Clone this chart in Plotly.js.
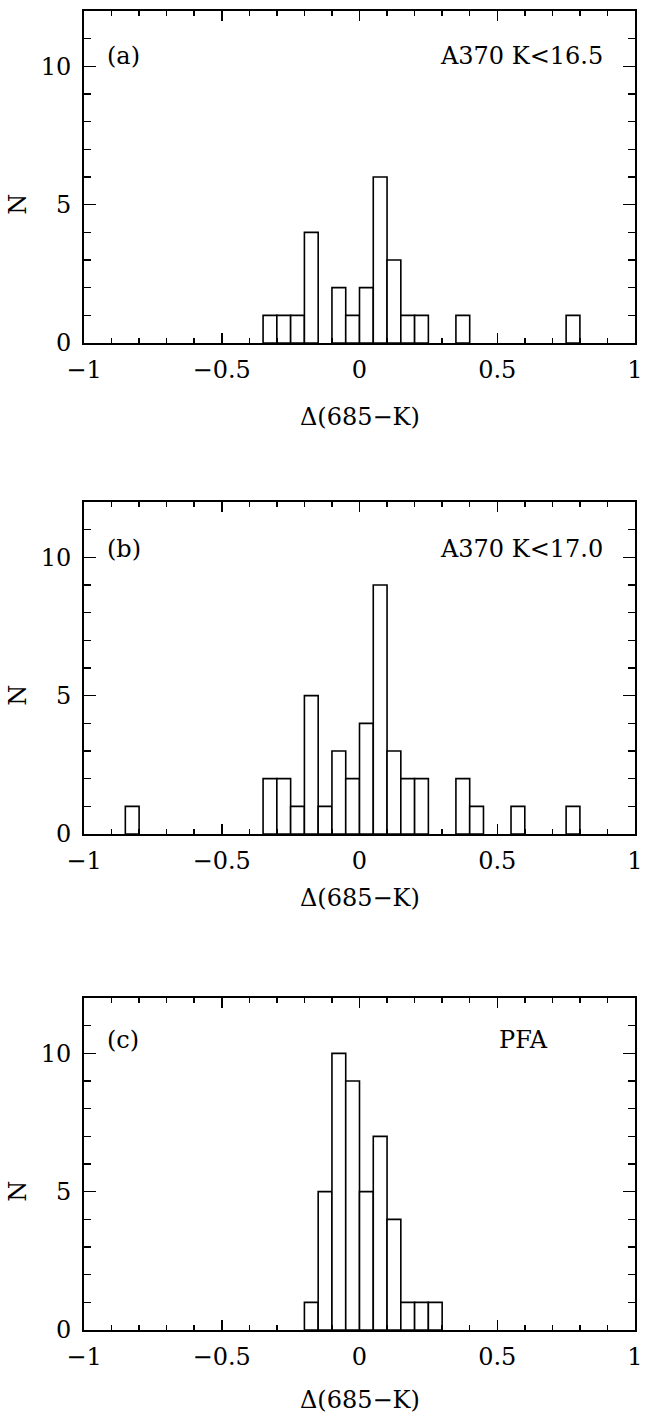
<!DOCTYPE html>
<html>
<head>
<meta charset="utf-8">
<script src="https://cdn.plot.ly/plotly-3.0.1.min.js"></script>
<style>html,body{margin:0;padding:0;background:#fff;}#chart{width:645px;height:1418px;}</style>
</head>
<body>
<div id="chart"></div>
<script>
// Bin centres (bin width 0.05) and counts
const binWidth = 0.05;
const centersA = [-0.325, -0.275, -0.225, -0.175, -0.075, -0.025, 0.025, 0.075, 0.125, 0.175, 0.225, 0.375, 0.775];
const countsA  = [1, 1, 1, 4, 2, 1, 2, 6, 3, 1, 1, 1, 1];

const centersB = [-0.825, -0.325, -0.275, -0.225, -0.175, -0.125, -0.075, -0.025, 0.025, 0.075, 0.125, 0.175, 0.225, 0.375, 0.425, 0.575, 0.775];
const countsB  = [1, 2, 2, 1, 5, 1, 3, 2, 4, 9, 3, 2, 2, 2, 1, 1, 1];

const centersC = [-0.175, -0.125, -0.075, -0.025, 0.025, 0.075, 0.125, 0.175, 0.225, 0.275];
const countsC  = [1, 5, 10, 9, 5, 7, 4, 1, 1, 1];

const panelLabels = ["(a)", "(b)", "(c)"];
const sampleLabels = ["A370 K<16.5", "A370 K<17.0", "PFA"];
const xTickVals = [-1, -0.5, 0, 0.5, 1];
const xTickText = ["\u22121", "\u22120.5", "0", "0.5", "1"];
const yTickVals = [0, 5, 10];
const xTitle = "\u0394(685\u2212K)";
const yTitle = "N";

const FONT = "DejaVu Serif, Liberation Serif, serif";
const FS = 24;

function barTrace(x, y, xa, ya) {
  return {
    type: 'bar', x: x, y: y, width: binWidth, xaxis: xa, yaxis: ya,
    marker: {color: 'white', line: {color: 'black', width: 1.6}},
    showlegend: false, hoverinfo: 'x+y'
  };
}

const data = [
  barTrace(centersA, countsA, 'x', 'y'),
  barTrace(centersB, countsB, 'x2', 'y2'),
  barTrace(centersC, countsC, 'x3', 'y3')
];

const W = 645, H = 1418;
const xDom = [84 / W, 635 / W];
const panels = [ [11, 343], [502, 834], [998, 1330] ];
const yDoms = panels.map(p => [1 - p[1] / H, 1 - p[0] / H]);

function xaxis(anchor) {
  return {
    domain: xDom, anchor: anchor, range: [-1.000001, 1.000001], autorange: false,
    tickmode: 'array', tickvals: xTickVals, ticktext: xTickText,
    ticks: 'inside', ticklen: 10, tickwidth: 1.5, tickcolor: 'black',
    minor: {dtick: 0.1, tick0: 0, ticks: 'inside', ticklen: 5, tickwidth: 1.5, tickcolor: 'black', showgrid: false},
    showline: true, linecolor: 'black', linewidth: 2, mirror: 'allticks',
    showgrid: false, zeroline: false,
    tickfont: {family: FONT, size: FS, color: 'black'},
    ticklabelstandoff: 4, ticklabeloverflow: 'allow', fixedrange: true
  };
}
function yaxis(anchor) {
  return {
    anchor: anchor, range: [0, 12], autorange: false,
    tickmode: 'array', tickvals: yTickVals,
    ticks: 'inside', ticklen: 12, tickwidth: 1.5, tickcolor: 'black',
    minor: {dtick: 1, tick0: 0, ticks: 'inside', ticklen: 7, tickwidth: 1.5, tickcolor: 'black', showgrid: false},
    showline: true, linecolor: 'black', linewidth: 2, mirror: 'allticks',
    showgrid: false, zeroline: false,
    tickfont: {family: FONT, size: FS, color: 'black'},
    ticklabelstandoff: 6, fixedrange: true
  };
}

const layout = {
  width: W, height: H,
  margin: {l: 0, r: 0, t: 0, b: 0},
  paper_bgcolor: 'white', plot_bgcolor: 'white',
  font: {family: FONT, size: FS, color: 'black'},
  bargap: 0,
  xaxis: xaxis('y'), xaxis2: xaxis('y2'), xaxis3: xaxis('y3'),
  yaxis: Object.assign(yaxis('x'), {domain: yDoms[0]}),
  yaxis2: Object.assign(yaxis('x2'), {domain: yDoms[1]}),
  yaxis3: Object.assign(yaxis('x3'), {domain: yDoms[2]}),
  annotations: []
};

const axSuffix = ['', '2', '3'];
const labelY = [10.38, 10.3, 10.48];
const sampleX = [0.892, 0.892, 0.69];
const xTitleY = [-0.223, -0.193, -0.21];
for (let i = 0; i < 3; i++) {
  const xr = 'x' + axSuffix[i], yr = 'y' + axSuffix[i];
  layout.annotations.push({xref: xr, yref: yr, x: -0.925, y: labelY[i], text: panelLabels[i],
    showarrow: false, xanchor: 'left', yanchor: 'middle', font: {family: FONT, size: FS, color: 'black'}});
  layout.annotations.push({xref: xr, yref: yr, x: sampleX[i], y: labelY[i], text: sampleLabels[i],
    showarrow: false, xanchor: 'right', yanchor: 'middle', font: {family: FONT, size: FS, color: 'black'}});
  layout.annotations.push({xref: xr, yref: yr + ' domain', x: 0, y: xTitleY[i], text: xTitle,
    showarrow: false, xanchor: 'center', yanchor: 'middle', font: {family: FONT, size: FS, color: 'black'}});
  layout.annotations.push({xref: 'paper', yref: yr, x: 18 / W, y: 5, text: yTitle, textangle: -90,
    showarrow: false, xanchor: 'center', yanchor: 'middle', font: {family: FONT, size: FS, color: 'black'}});
}

Plotly.newPlot('chart', data, layout, {staticPlot: true, displayModeBar: false});
</script>
</body>
</html>
